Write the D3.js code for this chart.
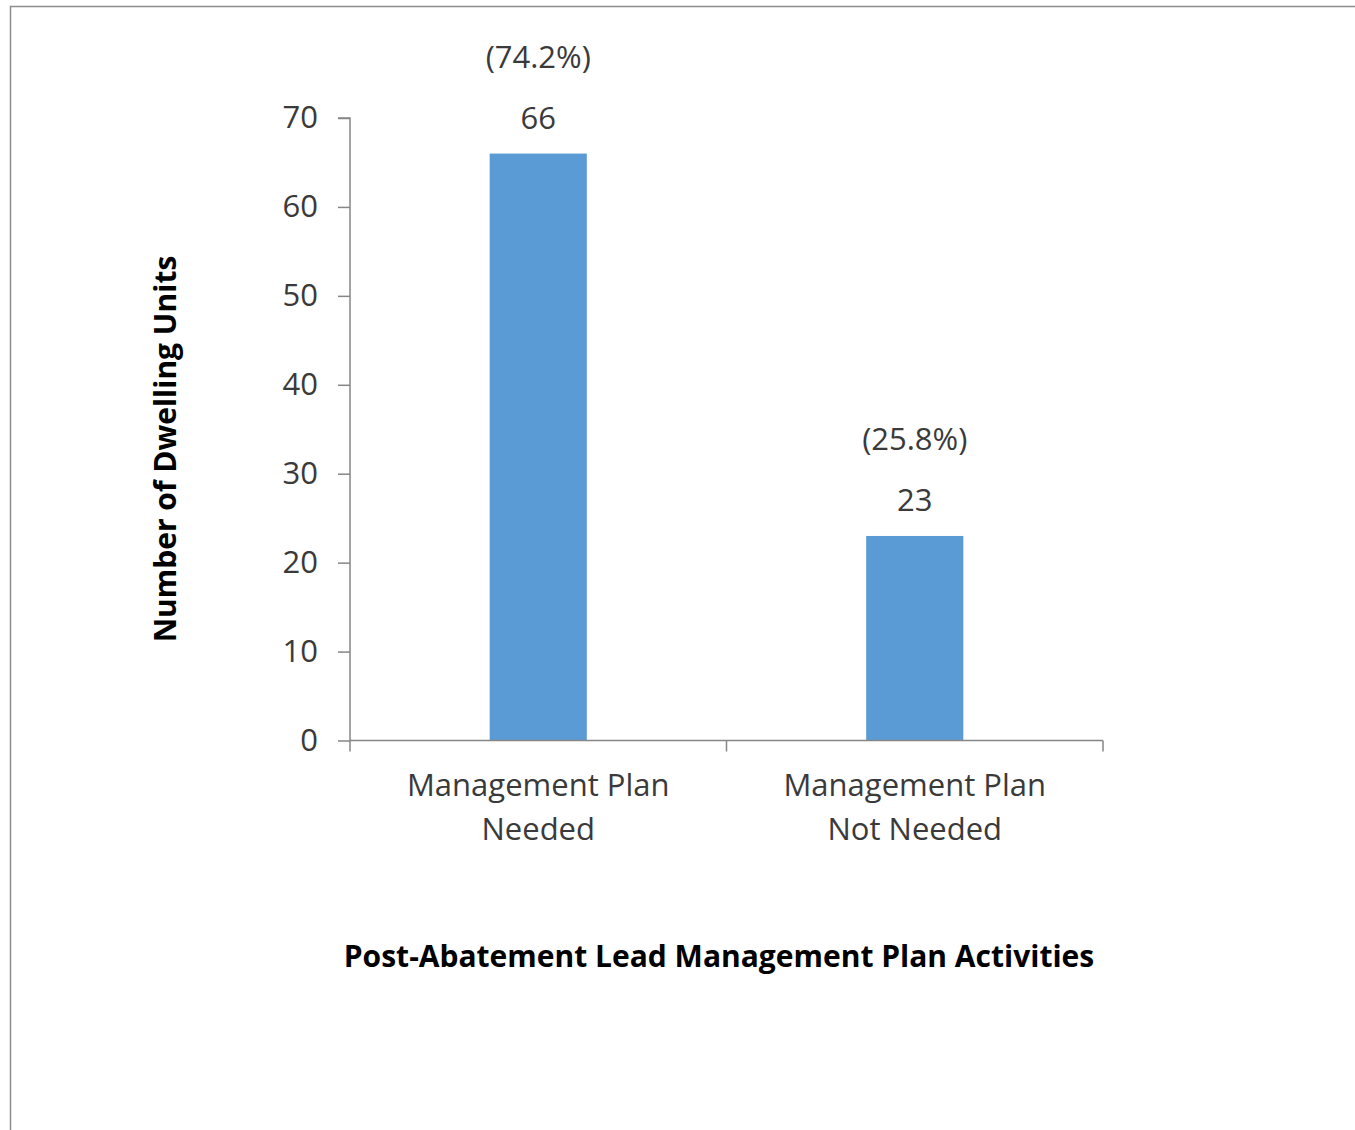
<!DOCTYPE html>
<html><head><meta charset="utf-8">
<script src="https://cdn.jsdelivr.net/npm/d3@7"></script>
<style>
html,body{margin:0;padding:0;background:#fff;}
text{font-family:"Open Sans","Noto Sans",sans-serif;}
</style></head>
<body><svg id="c" width="1355" height="1130"></svg>
<script>
const categories = [["Management Plan","Needed"],["Management Plan","Not Needed"]];
const values = [66, 23];
const percents = ["(74.2%)","(25.8%)"];
const yTicks = [0,10,20,30,40,50,60,70];
const yTitle = "Number of Dwelling Units";
const xTitle = "Post-Abatement Lead Management Plan Activities";

const svg = d3.select("#c");
svg.append("rect").attr("x",10.5).attr("y",6.5).attr("width",1400).attr("height",1200)
  .attr("fill","#fff").attr("stroke","#8c8c8c").attr("stroke-width",1.5);

const pLeft=350, pRight=1103, pTop=118, pBottom=740.5;
const x = d3.scaleBand().domain(categories.map((d,i)=>i)).range([pLeft,pRight]).paddingInner(0.742).paddingOuter(0.371);
const y = d3.scaleLinear().domain([0,70]).range([pBottom,pTop]);
const textColor="#3a3a3a", axisColor="#868686";
const fs = "31px";

// bars
svg.selectAll("rect.bar").data(values).enter().append("rect").attr("class","bar")
  .attr("x",(d,i)=>x(i)).attr("width",x.bandwidth())
  .attr("y",d=>y(d)).attr("height",d=>y(0)-y(d)).attr("fill","#5B9BD5");

// y axis
const ya = svg.append("g").attr("transform",`translate(${pLeft},0)`)
  .call(d3.axisLeft(y).tickValues(yTicks).tickSize(12).tickPadding(20));
ya.select(".domain").attr("stroke",axisColor).attr("stroke-width",1.5).attr("d",`M-12,${pTop}H0V${pBottom}`);
ya.selectAll(".tick line").attr("stroke",axisColor).attr("stroke-width",1.5);
ya.selectAll(".tick text").attr("fill",textColor).style("font-size",fs).style("font-family","'Open Sans',sans-serif");

// x axis
const xg = svg.append("g");
xg.append("line").attr("x1",pLeft).attr("x2",pRight).attr("y1",pBottom).attr("y2",pBottom).attr("stroke",axisColor).attr("stroke-width",1.5);
const step = x.step();
const bounds = [pLeft, pLeft+step, pRight];
xg.selectAll("line.t").data(bounds).enter().append("line").attr("class","t")
  .attr("x1",d=>d).attr("x2",d=>d).attr("y1",pBottom).attr("y2",pBottom+11).attr("stroke",axisColor).attr("stroke-width",1.5);

// category labels
categories.forEach((lines,i)=>{
  const cx = x(i)+x.bandwidth()/2;
  const t = svg.append("text").attr("x",cx).attr("y",796).attr("text-anchor","middle")
    .attr("fill",textColor).style("font-size",fs);
  lines.forEach((l,j)=>t.append("tspan").attr("x",cx).attr("dy",j?44:0).text(l));
});

// value & percent labels
svg.selectAll("text.val").data(values).enter().append("text").attr("class","val")
  .attr("x",(d,i)=>x(i)+x.bandwidth()/2).attr("y",d=>y(d)-25).attr("text-anchor","middle")
  .attr("fill",textColor).style("font-size",fs).text(d=>d);
svg.selectAll("text.pct").data(values).enter().append("text").attr("class","pct")
  .attr("x",(d,i)=>x(i)+x.bandwidth()/2).attr("y",d=>y(d)-86).attr("text-anchor","middle")
  .attr("fill",textColor).style("font-size",fs).text((d,i)=>percents[i]);

// titles
svg.append("text").attr("transform","translate(176,449) rotate(-90)").attr("text-anchor","middle")
  .attr("fill","#000").style("font-size","30px").style("font-weight","bold").text(yTitle);
svg.append("text").attr("x",719).attr("y",967).attr("text-anchor","middle")
  .attr("fill","#000").style("font-size","30px").style("font-weight","bold").text(xTitle);
</script></body></html>
